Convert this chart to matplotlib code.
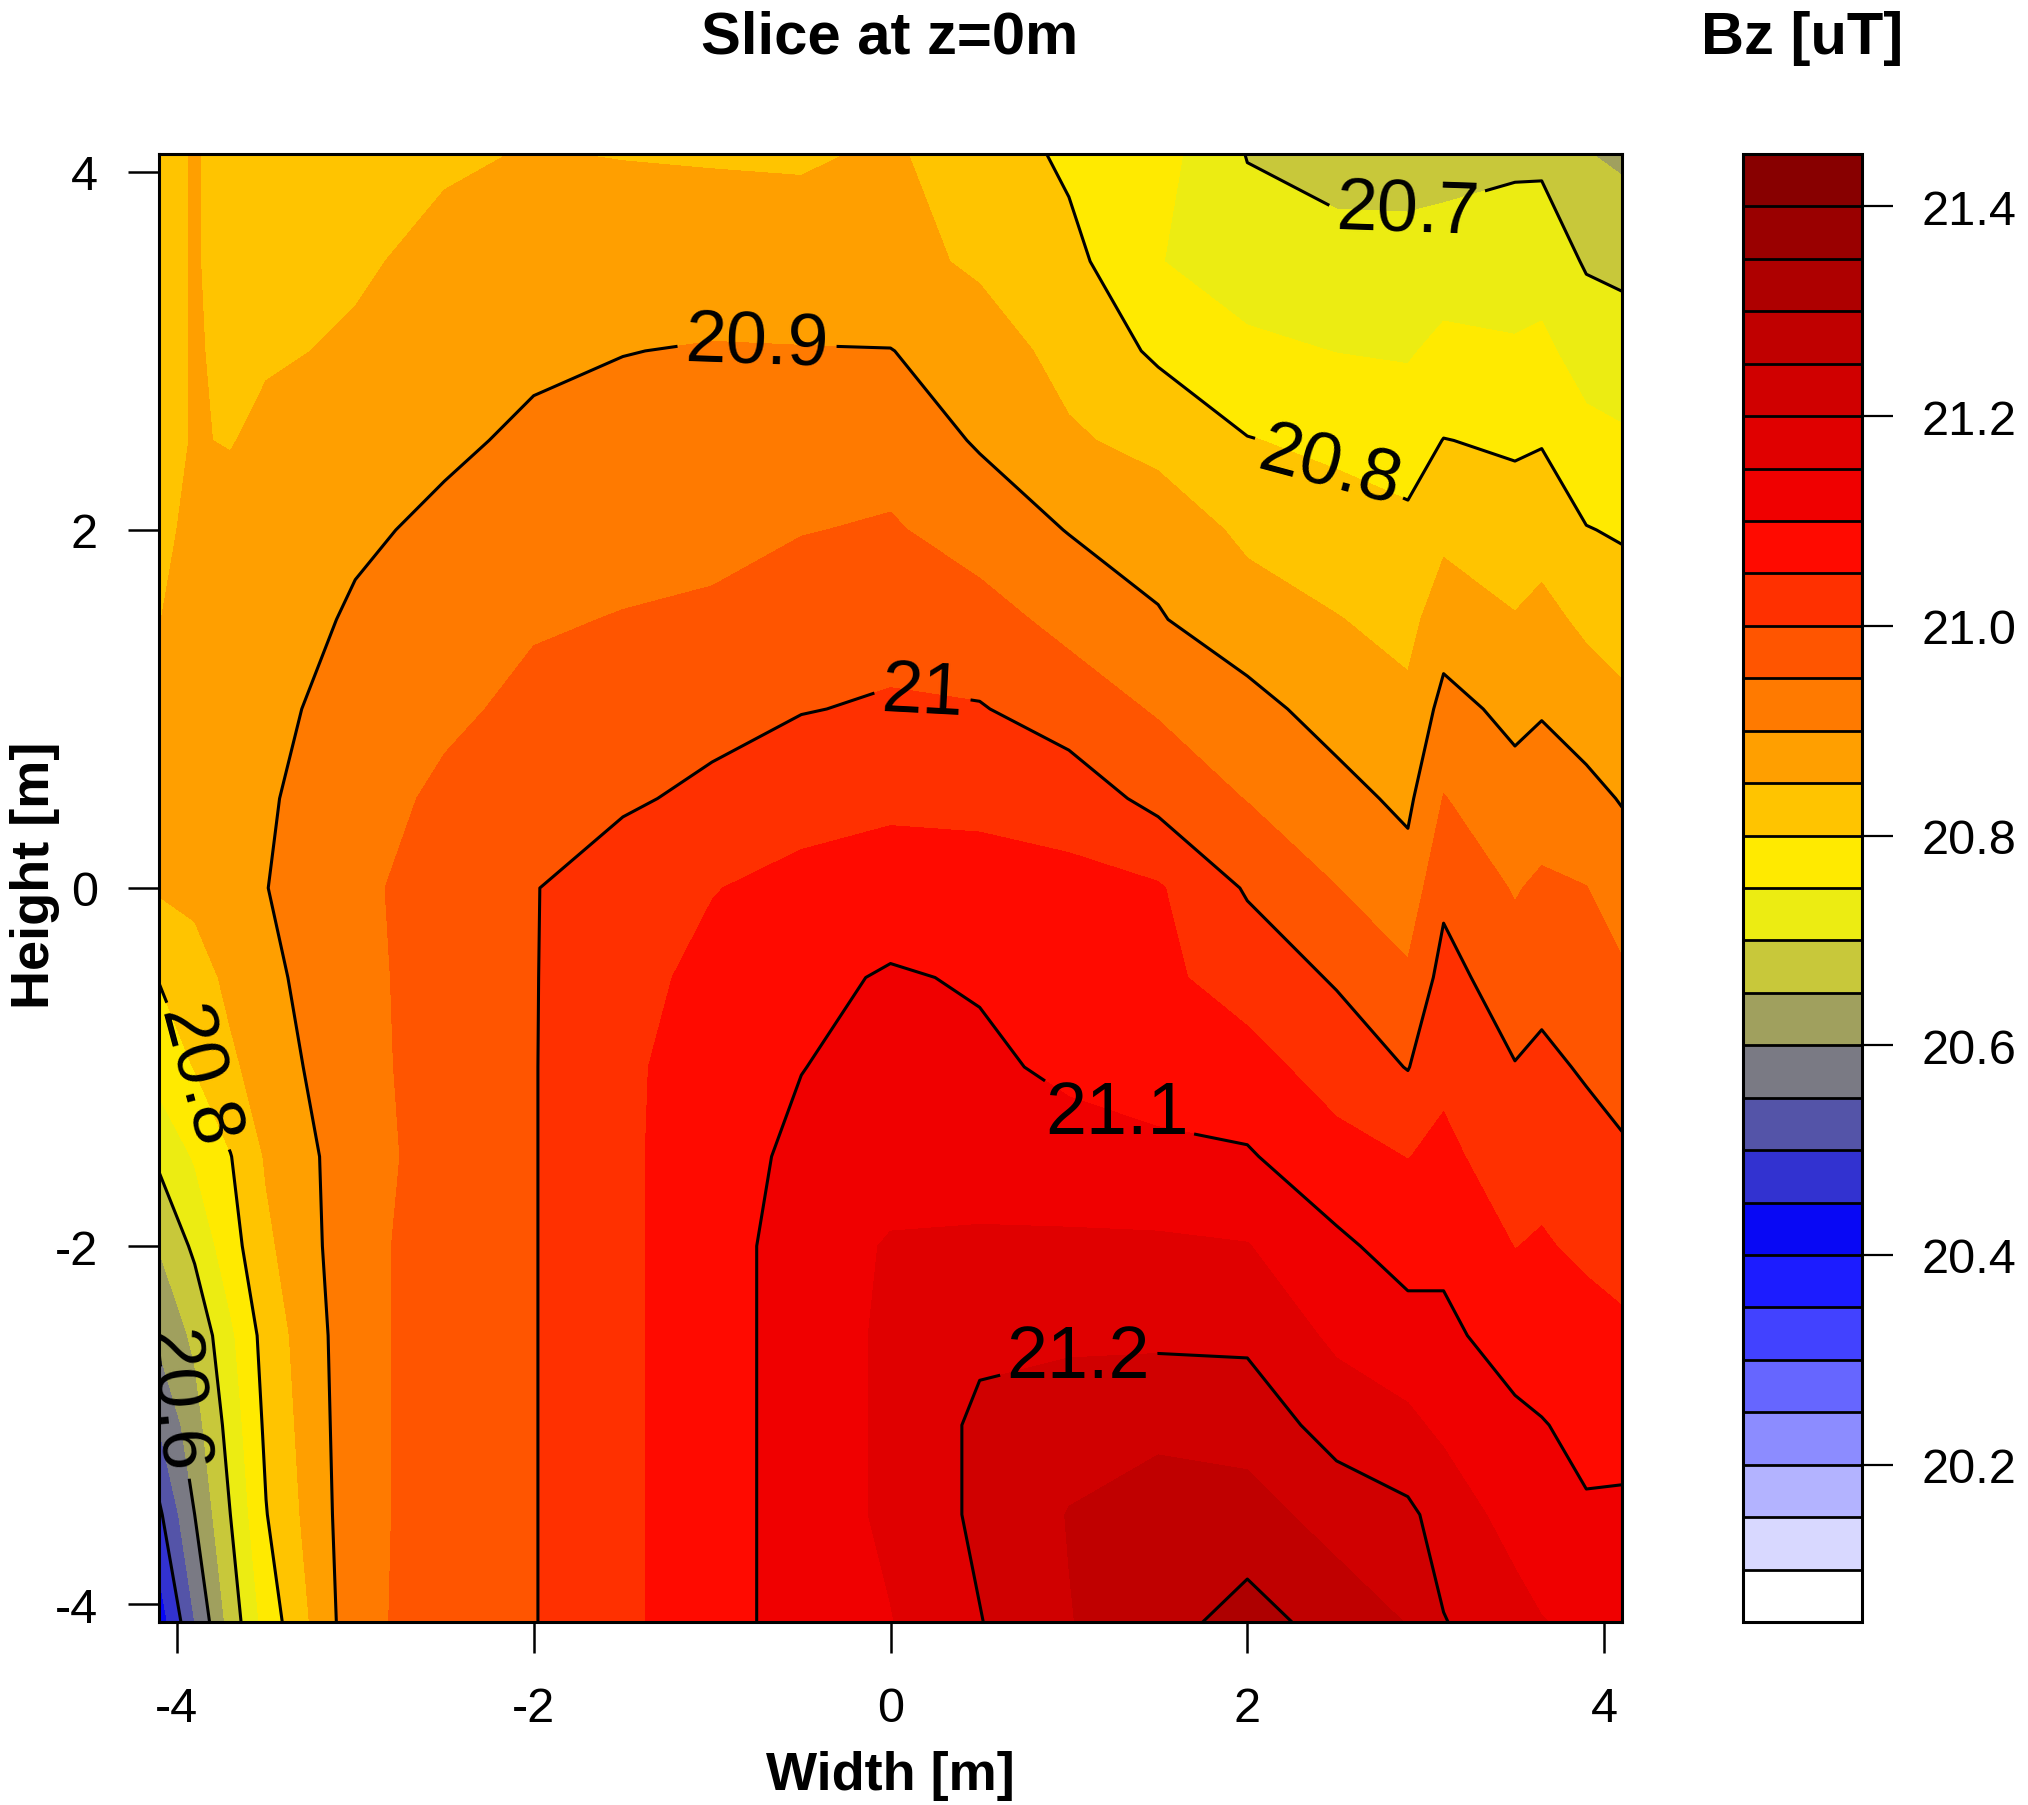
import numpy as np
import matplotlib
matplotlib.use('Agg')
import matplotlib.pyplot as plt
from matplotlib.colors import ListedColormap, BoundaryNorm
import matplotlib.cm as cm

plt.rcParams['font.family'] = ['Liberation Sans', 'DejaVu Sans']
plt.rcParams['axes.unicode_minus'] = False

# ---- grid (metres) ----
width_m = [-4.1, -3.9, -3.7, -3.5, -3.0, -2.5, -2.0, -1.5, -1.0, -0.5, 0.0,
           0.5, 1.0, 1.5, 2.0, 2.5, 2.9, 3.1, 3.5, 3.65, 3.9, 4.1]
height_m = [-4.1, -3.5, -3.0, -2.5, -2.0, -1.5, -1.0, -0.5, 0.0, 0.5, 1.0,
            1.5, 2.0, 2.5, 3.0, 3.5, 4.1]

# ---- Bz values [uT], one row per height ----
bz_y_m4p1 = [20.42, 20.55, 20.67, 20.77, 20.935, 20.975, 20.998, 21.04, 21.08, 21.12, 21.148,
             21.198, 21.248, 21.28, 21.32, 21.28, 21.248, 21.202, 21.17, 21.152, 21.14, 21.13]
bz_y_m3p5 = [20.49, 20.60, 20.70, 20.798, 20.935, 20.972, 20.998, 21.04, 21.08, 21.12, 21.16,
             21.21, 21.252, 21.27, 21.27, 21.23, 21.21, 21.18, 21.13, 21.12, 21.104, 21.11]
bz_y_m3p0 = [20.552, 20.63, 20.72, 20.81, 20.935, 20.972, 20.998, 21.04, 21.08, 21.12, 21.16,
             21.21, 21.23, 21.24, 21.23, 21.18, 21.16, 21.14, 21.11, 21.102, 21.09, 21.08]
bz_y_m2p5 = [20.61, 20.66, 20.74, 20.82, 20.935, 20.972, 20.998, 21.04, 21.08, 21.12, 21.16,
             21.19, 21.19, 21.19, 21.19, 21.14, 21.12, 21.11, 21.08, 21.08, 21.07, 21.06]
bz_y_m2p0 = [20.652, 20.71, 20.78, 20.84, 20.935, 20.972, 20.998, 21.04, 21.08, 21.12, 21.155,
             21.158, 21.158, 21.157, 21.152, 21.11, 21.08, 21.09, 21.049, 21.055, 21.04, 21.03]
bz_y_m1p5 = [20.71, 20.755, 20.798, 20.855, 20.93, 20.97, 20.998, 21.04, 21.08, 21.11, 21.125,
             21.125, 21.12, 21.115, 21.105, 21.066, 21.049, 21.06, 21.027, 21.033, 21.018, 21.007]
bz_y_m1p0 = [20.77, 20.802, 20.84, 20.875, 20.935, 20.97, 20.998, 21.04, 21.075, 21.099, 21.115,
             21.11, 21.09, 21.07, 21.067, 21.03, 20.998, 21.04, 21.002, 21.01, 20.995, 20.982]
bz_y_m0p5 = [20.802, 20.825, 20.863, 20.888, 20.937, 20.97, 20.998, 21.034, 21.063, 21.087, 21.105,
             21.095, 21.09, 21.06, 21.03, 20.995, 20.958, 21.017, 20.973, 20.986, 20.972, 20.957]
bz_y_0p0 = [20.855, 20.865, 20.88, 20.899, 20.94, 20.97, 20.998, 21.027, 21.048, 21.065, 21.073,
            21.07, 21.065, 21.055, 20.995, 20.951, 20.92, 20.989, 20.946, 20.96, 20.951, 20.928]
bz_y_0p5 = [20.86, 20.87, 20.88, 20.895, 20.928, 20.96, 20.98, 20.993, 21.011, 21.03, 21.04,
            21.038, 21.027, 20.986, 20.948, 20.915, 20.89, 20.952, 20.917, 20.92, 20.914, 20.897]
bz_y_1p0 = [20.855, 20.868, 20.878, 20.89, 20.915, 20.94, 20.962, 20.973, 20.984, 20.998, 21.005,
            21.003, 20.977, 20.945, 20.914, 20.883, 20.861, 20.915, 20.888, 20.897, 20.877, 20.862]
bz_y_1p5 = [20.849, 20.865, 20.875, 20.885, 20.904, 20.921, 20.945, 20.952, 20.956, 20.976, 20.984,
            20.968, 20.936, 20.903, 20.876, 20.852, 20.835, 20.877, 20.853, 20.864, 20.84, 20.826]
bz_y_2p0 = [20.84, 20.86, 20.865, 20.87, 20.895, 20.906, 20.923, 20.934, 20.94, 20.948, 20.955,
            20.929, 20.898, 20.885, 20.838, 20.821, 20.81, 20.838, 20.82, 20.83, 20.802, 20.795]
bz_y_2p5 = [20.84, 20.852, 20.848, 20.86, 20.88, 20.895, 20.905, 20.915, 20.92, 20.928, 20.93,
            20.895, 20.858, 20.832, 20.802, 20.79, 20.78, 20.801, 20.794, 20.797, 20.764, 20.757]
bz_y_3p0 = [20.84, 20.852, 20.845, 20.845, 20.855, 20.87, 20.895, 20.899, 20.903, 20.902, 20.901,
            20.88, 20.83, 20.793, 20.761, 20.749, 20.745, 20.763, 20.755, 20.76, 20.73, 20.72]
bz_y_3p5 = [20.84, 20.852, 20.84, 20.84, 20.845, 20.86, 20.875, 20.88, 20.875, 20.87, 20.87,
            20.84, 20.815, 20.752, 20.723, 20.719, 20.717, 20.724, 20.728, 20.73, 20.695, 20.69]
bz_y_4p1 = [20.84, 20.852, 20.84, 20.835, 20.835, 20.845, 20.852, 20.848, 20.846, 20.845, 20.855,
            20.83, 20.79, 20.77, 20.698, 20.68, 20.68, 20.68, 20.69, 20.69, 20.652, 20.64]

bz_rows = [bz_y_m4p1, bz_y_m3p5, bz_y_m3p0, bz_y_m2p5, bz_y_m2p0, bz_y_m1p5, bz_y_m1p0,
           bz_y_m0p5, bz_y_0p0, bz_y_0p5, bz_y_1p0, bz_y_1p5, bz_y_2p0, bz_y_2p5,
           bz_y_3p0, bz_y_3p5, bz_y_4p1]

# ---- levels / colours ----
fill_levels = [20.05, 20.10, 20.15, 20.20, 20.25, 20.30, 20.35, 20.40, 20.45, 20.50,
               20.55, 20.60, 20.65, 20.70, 20.75, 20.80, 20.85, 20.90, 20.95, 21.00,
               21.05, 21.10, 21.15, 21.20, 21.25, 21.30, 21.35, 21.40, 21.45]
fill_colors = ['#FFFFFF', '#D8D8FF', '#B3B3FF', '#8C8CFF', '#6666FF', '#4242FF', '#1C1CFF',
               '#0808F5', '#3232D0', '#5454A8', '#7A7A84', '#A0A05E', '#C8C83A', '#ECEC12',
               '#FFEA00', '#FFC400', '#FF9F00', '#FF7A00', '#FF5500', '#FF3000', '#FF0A00',
               '#F00000', '#E00000', '#D00000', '#C00000', '#AE0000', '#9A0000', '#880000']
line_levels = [20.5, 20.6, 20.7, 20.8, 20.9, 21.0, 21.1, 21.2, 21.3]
label_positions = [(-0.75, 3.02), (0.18, 1.11), (1.25, -1.32), (1.05, -2.63),
                   (2.46, 2.35), (2.9, 3.78), (-3.88, -1.05), (-3.97, -2.85)]
label_rotations = [-2, -3, 0, 0, -15, -2, -75, -85]
axis_ticks = [-4, -2, 0, 2, 4]
cbar_ticks = [20.2, 20.4, 20.6, 20.8, 21.0, 21.2, 21.4]

W, H = 2028, 1806
fig = plt.figure(figsize=(W / 100, H / 100), dpi=100)
bottom = 1 - 1623 / H
height = (1623 - 155) / H
ax = fig.add_axes([159 / W, bottom, (1622 - 159) / W, height])
cax = fig.add_axes([1743 / W, bottom, (1862 - 1743) / W, height])

X, Y = np.meshgrid(width_m, height_m)
Z = np.array(bz_rows)

ax.contourf(X, Y, Z, levels=fill_levels, colors=fill_colors, antialiased=False)
cs = ax.contour(X, Y, Z, levels=line_levels, colors='black', linewidths=2.2)
ax.clabel(cs, manual=label_positions, inline=True,
          inline_spacing=8, fontsize=53, fmt=lambda v: f'{v:g}')
for t, r in zip(cs.labelTexts, label_rotations):
    t.set_rotation(r)

ax.set_xlim(-4.1, 4.1)
ax.set_ylim(-4.1, 4.1)
ax.set_xticks(axis_ticks)
ax.set_yticks(axis_ticks)
ax.set_xticklabels([str(t) for t in axis_ticks])
ax.set_yticklabels([str(t) for t in axis_ticks])
for s in ax.spines.values():
    s.set_linewidth(2.2)
ax.tick_params(axis='both', length=22, width=1.8, labelsize=35, direction='out')
ax.tick_params(axis='x', pad=24)
ax.tick_params(axis='y', pad=22)

cmap = ListedColormap(fill_colors)
norm = BoundaryNorm(fill_levels, cmap.N)
sm = cm.ScalarMappable(norm=norm, cmap=cmap)
cb = fig.colorbar(sm, cax=cax, ticks=cbar_ticks, drawedges=True, format='%.1f')
cb.outline.set_linewidth(2.2)
cb.dividers.set_color('black')
cb.dividers.set_linewidth(2.0)
cax.tick_params(length=22, width=1.6, labelsize=35, pad=21)
cax.minorticks_off()

fig.text(890 / W, 1 - 38 / H, 'Slice at z=0m', ha='center', va='center',
         fontsize=43, fontweight='bold')
fig.text(1802 / W, 1 - 39 / H, 'Bz [uT]', ha='center', va='center',
         fontsize=43, fontweight='bold')
fig.text(890 / W, 1 - 1776 / H, 'Width [m]', ha='center', va='center',
         fontsize=39, fontweight='bold')
fig.text(35 / W, 1 - 875 / H, 'Height [m]', ha='center', va='center',
         rotation=90, fontsize=39, fontweight='bold')

fig.savefig('out.png', dpi=100)
